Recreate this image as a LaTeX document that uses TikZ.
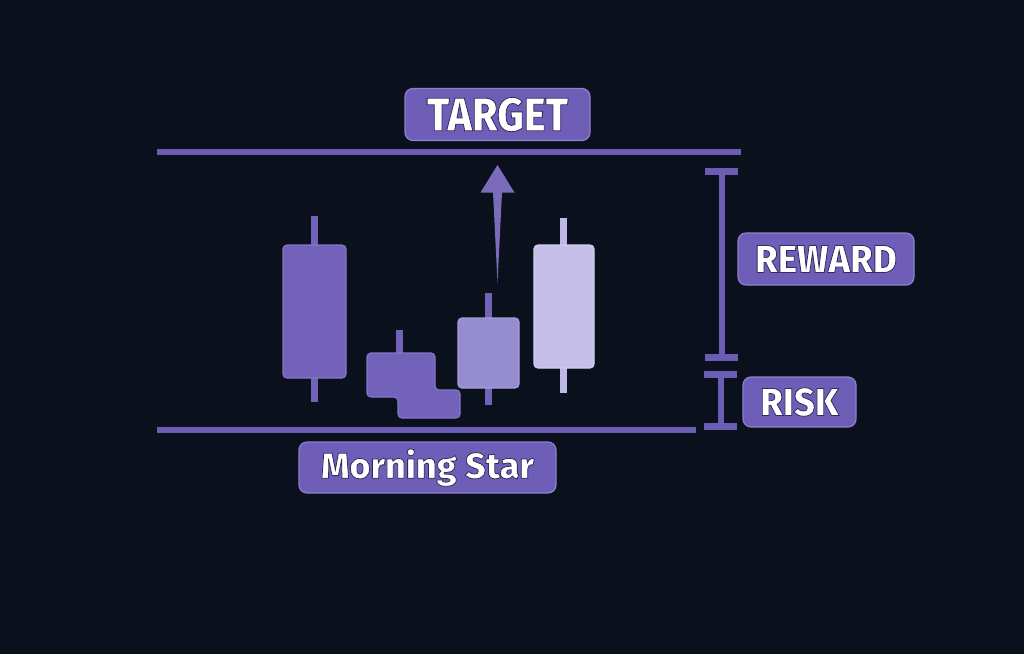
\documentclass[tikz,border=0pt]{standalone}
\usepackage{fontspec}
\setmainfont{Fira Sans}
\IfFontExistsTF{Fira Sans ExtraBold}{%
  \newfontfamily\capsfont[FakeStretch=0.88]{Fira Sans ExtraBold}
  \newfontfamily\sidefont[FakeStretch=0.94]{Fira Sans ExtraBold}
  \newfontfamily\namefont{Fira Sans ExtraBold}
}{%
  \IfFontExistsTF{FiraSans-ExtraBold.otf}{%
    \newfontfamily\capsfont[FakeStretch=0.88]{FiraSans-ExtraBold.otf}
    \newfontfamily\sidefont[FakeStretch=0.94]{FiraSans-ExtraBold.otf}
    \newfontfamily\namefont{FiraSans-ExtraBold.otf}
  }{%
    \newfontfamily\capsfont[FakeStretch=0.86]{Fira Sans Bold}
    \newfontfamily\sidefont[FakeStretch=0.9]{Fira Sans Bold}
    \newfontfamily\namefont{Fira Sans Bold}
  }%
}
\usetikzlibrary{calc}
\definecolor{bgnavy}{HTML}{0B111C}
\definecolor{linepurple}{HTML}{6B5CB4}
\definecolor{tagfill}{HTML}{6E5EB8}
\definecolor{tagborder}{HTML}{8C80D0}
\definecolor{bearfill}{HTML}{7262BA}
\definecolor{bearborder}{HTML}{8376C8}
\definecolor{midfill}{HTML}{958DD0}
\definecolor{midborder}{HTML}{A69FDA}
\definecolor{bullfill}{HTML}{C6BFEA}
\definecolor{bullborder}{HTML}{D4CEF0}
\definecolor{bullwick}{HTML}{C0B8E6}
\tikzset{
  tag/.style={
    rectangle,
    rounded corners=8pt,
    align=center,
    fill=tagfill,
    draw=tagborder,
    line width=1.2pt,
    inner sep=0pt,
    minimum height=52pt,
    text=white
  },
  captag/.style={tag, font=\sidefont\fontsize{39}{40}\selectfont},
  level/.style={draw=linepurple, line width=6pt},
  wick/.style={line width=6.5pt},
  body/.style={rounded corners=4pt, line width=1.2pt},
  bracket/.style={draw=linepurple, line width=6pt},
  bracketend/.style={draw=linepurple, line width=6.5pt}
}
% white letters with a thin dark edge
\newcommand{\tagtext}[1]{%
  \special{pdf:literal direct q 2 Tr 0.8 w 0.2 0.16 0.36 RG}#1\special{pdf:literal direct Q}}

\begin{document}
\begin{tikzpicture}[x=1pt, y=-1pt]

% Background.
\fill[bgnavy] (0,0) rectangle (1024,654);
\useasboundingbox (0,0) rectangle (1024,654);

% Target and stop levels.
\coordinate (targetleft) at (157,152);
\coordinate (targetright) at (741,152);
\coordinate (stopleft) at (157,429.5);
\coordinate (stopright) at (696,429.5);
\draw[level] (targetleft) -- (targetright);
\draw[level] (stopleft) -- (stopright);

% Labels.
\node[tag, minimum width=185pt, font=\capsfont\fontsize{47}{48}\selectfont] (target) at (497.5,114.5) {\tagtext{TARGET}};
\node[captag, minimum width=176pt] (reward) at (826,259) {\tagtext{REWARD}};
\node[captag, minimum width=113pt, minimum height=50pt] (risk) at (799.5,402) {\tagtext{RISK}};
\node[tag, minimum width=257pt, minimum height=51pt, font=\namefont\fontsize{36}{37}\selectfont] (pattern) at (427.5,467.5) {\tagtext{Morning Star}};

% Candle 1, long bearish.
\draw[wick, bearfill] (314.5,216) -- (314.5,402);
\draw[body, fill=bearfill, draw=bearborder] (283,245) rectangle (346,378);

% Candle 2, small star body.
\draw[wick, bearfill] (399.5,330) -- (399.5,360);
\draw[body, fill=bearfill, draw=bearborder]
  (367,353) -- (435,353) -- (435,390) -- (460,390) -- (460,418)
  -- (398,418) -- (398,397) -- (367,397) -- cycle;

% Candle 3, recovery.
\draw[wick, linepurple!85!midfill] (488.5,293) -- (488.5,405);
\draw[body, fill=midfill, draw=midborder] (458,318) rectangle (519,388);

% Candle 4, strong bullish.
\draw[wick, bullwick] (563.5,218) -- (563.5,393);
\draw[body, fill=bullfill, draw=bullborder] (534,245) rectangle (594,368);

% Up arrow.
\coordinate (arrowtail) at (497.5,283);
\coordinate (arrowtip) at (497.5,165);
\fill[linepurple!90!white] (arrowtail) -- ($(arrowtip)+(-4.5,27.5)$)
  -- ($(arrowtip)+(-17,27.5)$) -- (arrowtip) -- ($(arrowtip)+(17,27.5)$)
  -- ($(arrowtip)+(4.5,27.5)$) -- cycle;

% Reward and risk brackets.
\coordinate (rewardtop) at (721.5,171.5);
\coordinate (rewardbot) at (721.5,357.5);
\coordinate (risktop) at (720.5,374.5);
\coordinate (riskbot) at (720.5,426.5);
\draw[bracket] (rewardtop) -- (rewardbot);
\draw[bracket] (risktop) -- (riskbot);
\foreach \c in {rewardtop,rewardbot,risktop,riskbot} {
  \draw[bracketend] ($(\c)+(-16.5,0)$) -- ($(\c)+(16,0)$);
}

\end{tikzpicture}
\end{document}
